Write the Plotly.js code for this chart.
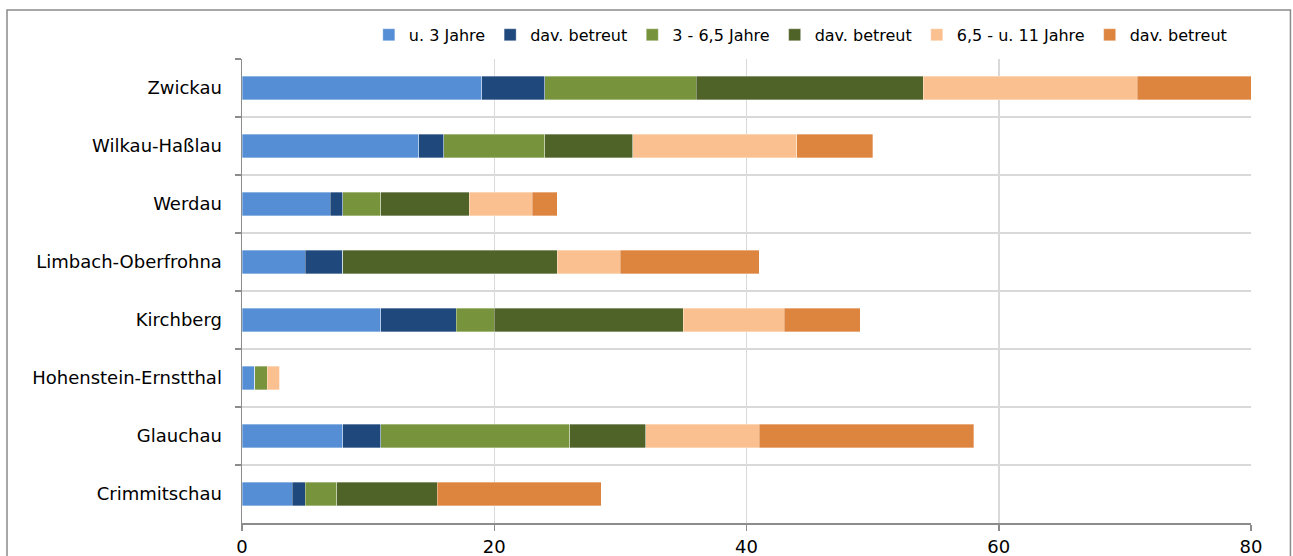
<!DOCTYPE html>
<html>
<head>
<meta charset="utf-8">
<script src="https://cdn.plot.ly/plotly-3.0.1.min.js"></script>
<style>
  html, body { margin: 0; padding: 0; background: #ffffff; }
  #chart { width: 1293px; height: 556px; }
</style>
</head>
<body>
<div id="chart"></div>
<script>
// Categories, top to bottom as shown
const categories = ["Zwickau", "Wilkau-Haßlau", "Werdau", "Limbach-Oberfrohna", "Kirchberg", "Hohenstein-Ernstthal", "Glauchau", "Crimmitschau"];

// Series values (same order as categories)
const u3Jahre        = [19, 14, 7, 5, 11, 1, 8, 4];
const u3Betreut      = [5, 2, 1, 3, 6, 0, 3, 1];
const j3bis65        = [12, 8, 3, 0, 3, 1, 15, 2.5];
const j3bis65Betreut = [18, 7, 7, 17, 15, 0, 6, 8];
const j65bis11       = [17, 13, 5, 5, 8, 1, 9, 0];
const j65bis11Betreut= [9, 6, 2, 11, 6, 0, 17, 13];

const seriesNames = ["u. 3 Jahre", "dav. betreut", "3 - 6,5 Jahre", "dav. betreut", "6,5 - u. 11 Jahre", "dav. betreut"];
const seriesValues = [u3Jahre, u3Betreut, j3bis65, j3bis65Betreut, j65bis11, j65bis11Betreut];
const seriesColors = ["#558ED5", "#1F497D", "#77933C", "#4F6228", "#FAC090", "#DD843F"];

const xTicks = [0, 20, 40, 60, 80];

const FONT = "DejaVu Sans, Liberation Sans, Arial, sans-serif";

const traces = seriesValues.map((vals, i) => ({
  type: "bar",
  orientation: "h",
  name: seriesNames[i],
  y: categories,
  x: vals,
  marker: { color: seriesColors[i], line: { color: "rgba(255,255,255,0.55)", width: 0.6 } },
  hoverinfo: "skip"
}));

const layout = {
  width: 1293,
  height: 556,
  barmode: "stack",
  bargap: 0.6,
  paper_bgcolor: "#ffffff",
  plot_bgcolor: "#ffffff",
  margin: { l: 242, r: 42, t: 59, b: 33, pad: 0 },
  font: { family: FONT, size: 18, color: "#000000" },
  showlegend: true,
  legend: {
    orientation: "h",
    x: 0.981, xanchor: "right",
    y: 1.052, yanchor: "middle",
    font: { family: FONT, size: 16, color: "#000000" },
    bgcolor: "rgba(0,0,0,0)",
    traceorder: "normal",
    itemwidth: 30,
    itemclick: false
  },
  xaxis: {
    range: [0, 80],
    tickvals: xTicks,
    ticktext: xTicks.map(String),
    showgrid: true,
    gridcolor: "#d9d9d9",
    gridwidth: 1.5,
    zeroline: false,
    showline: true,
    linecolor: "#8c8c8c",
    linewidth: 1.5,
    ticks: "outside",
    ticklen: 6,
    tickcolor: "#8c8c8c",
    tickwidth: 1.5,
    ticklabelstandoff: 1,
    tickfont: { family: FONT, size: 18, color: "#000000" },
    fixedrange: true
  },
  yaxis: {
    type: "category",
    autorange: "reversed",
    tickson: "boundaries",
    showgrid: true,
    gridcolor: "#d9d9d9",
    gridwidth: 1.5,
    showline: true,
    linecolor: "#8c8c8c",
    linewidth: 1.5,
    ticks: "outside",
    ticklen: 6,
    tickcolor: "#8c8c8c",
    tickwidth: 1.5,
    ticklabelstandoff: 15,
    tickfont: { family: FONT, size: 18, color: "#000000" },
    fixedrange: true
  },
  shapes: [
    {
      type: "rect", xref: "paper", yref: "paper",
      x0: -0.2329, x1: 1.0391, y0: -0.12, y1: 1.1056,
      line: { color: "#8a8a8a", width: 1.5 },
      fillcolor: "rgba(0,0,0,0)", layer: "below"
    }
  ]
};

Plotly.newPlot("chart", traces, layout, { staticPlot: true, displayModeBar: false });
</script>
</body>
</html>
